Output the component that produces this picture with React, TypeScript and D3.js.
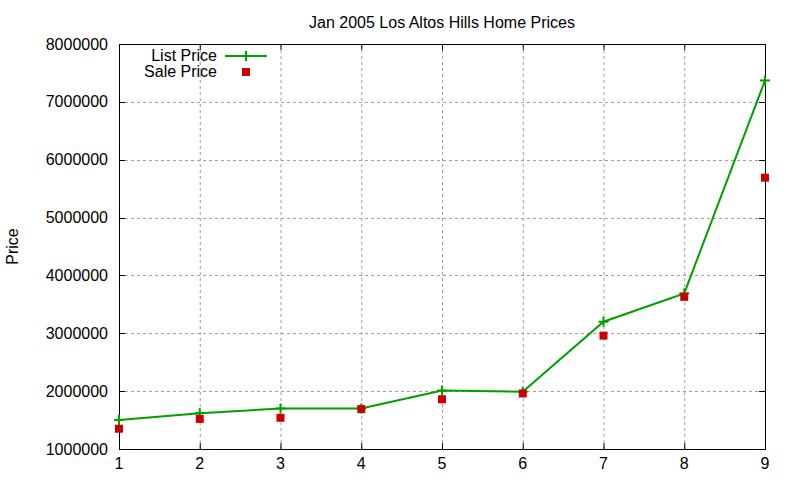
import React from "react";
import * as d3 from "d3";

const houses = [1, 2, 3, 4, 5, 6, 7, 8, 9];
const listPrice = [1500000, 1620000, 1700000, 1700000, 2010000, 1990000, 3200000, 3690000, 7370000];
const salePrice = [1350000, 1520000, 1540000, 1690000, 1860000, 1960000, 2960000, 3630000, 5690000];
const xTicks = [1, 2, 3, 4, 5, 6, 7, 8, 9];
const yTicks = [1000000, 2000000, 3000000, 4000000, 5000000, 6000000, 7000000, 8000000];

const W = 800;
const H = 480;
const L = 119;
const R = 765;
const T = 44;
const B = 449;
const FONT = "'Liberation Sans', Arial, sans-serif";
const GREEN = "#00a000";
const RED = "#cc0000";

export default function App() {
  const x = d3.scaleLinear().domain([1, 9]).range([L, R]);
  const y = d3.scaleLinear().domain([1000000, 8000000]).range([B, T]);
  const line = d3
    .line<number>()
    .x((_, i) => x(houses[i]))
    .y((d) => y(d));
  const tickLen = 6;
  return (
    <svg
      width={W}
      height={H}
      style={{ position: "absolute", left: 0, top: 0, background: "#fff" }}
      fontFamily={FONT}
    >
      <rect x={0} y={0} width={W} height={H} fill="#fff" />
      {/* grid */}
      <g stroke="#a0a0a0" strokeWidth={1} strokeDasharray="3,3">
        {xTicks.slice(1, -1).map((t) => (
          <line key={"gx" + t} x1={x(t) + 0.5} x2={x(t) + 0.5} y1={T} y2={B} />
        ))}
        {yTicks.slice(1, -1).map((t) => (
          <line key={"gy" + t} x1={L} x2={R} y1={Math.round(y(t)) + 0.5} y2={Math.round(y(t)) + 0.5} />
        ))}
      </g>
      {/* ticks */}
      <g stroke="#000" strokeWidth={1}>
        {xTicks.map((t) => (
          <g key={"tx" + t}>
            <line x1={x(t) + 0.5} x2={x(t) + 0.5} y1={B} y2={B - tickLen} />
            <line x1={x(t) + 0.5} x2={x(t) + 0.5} y1={T} y2={T + tickLen} />
          </g>
        ))}
        {yTicks.map((t) => (
          <g key={"ty" + t}>
            <line x1={L} x2={L + tickLen} y1={Math.round(y(t)) + 0.5} y2={Math.round(y(t)) + 0.5} />
            <line x1={R} x2={R - tickLen} y1={Math.round(y(t)) + 0.5} y2={Math.round(y(t)) + 0.5} />
          </g>
        ))}
      </g>
      {/* frame */}
      <rect x={L + 0.5} y={T + 0.5} width={R - L} height={B - T} fill="none" stroke="#000" strokeWidth={1} />
      {/* tick labels */}
      <g fontSize={16} fill="#000">
        {yTicks.map((t) => (
          <text key={"ly" + t} x={L - 11} y={y(t)} dy="0.35em" textAnchor="end">
            {t}
          </text>
        ))}
        {xTicks.map((t) => (
          <text key={"lx" + t} x={x(t)} y={B + 20} textAnchor="middle">
            {t}
          </text>
        ))}
      </g>
      {/* title */}
      <text x={(L + R) / 2} y={28} textAnchor="middle" fontSize={16} fill="#000">
        Jan 2005 Los Altos Hills Home Prices
      </text>
      {/* y label */}
      <text
        transform={`translate(18, ${(T + B) / 2}) rotate(-90)`}
        textAnchor="middle"
        fontSize={16}
        fill="#000"
      >
        Price
      </text>
      {/* list price line */}
      <path d={line(listPrice) || ""} fill="none" stroke={GREEN} strokeWidth={2} />
      {listPrice.map((v, i) => (
        <g key={"lp" + i} stroke={GREEN} strokeWidth={2}>
          <line x1={x(houses[i]) - 5} x2={x(houses[i]) + 5} y1={y(v)} y2={y(v)} />
          <line x1={x(houses[i])} x2={x(houses[i])} y1={y(v) - 5} y2={y(v) + 5} />
        </g>
      ))}
      {/* sale price squares */}
      {salePrice.map((v, i) => (
        <rect key={"sp" + i} x={x(houses[i]) - 4} y={y(v) - 4} width={8} height={8} fill={RED} />
      ))}
      {/* legend */}
      <g fontSize={16} fill="#000">
        <text x={217} y={61} textAnchor="end">
          List Price
        </text>
        <text x={217} y={77} textAnchor="end">
          Sale Price
        </text>
      </g>
      <line x1={225} x2={267} y1={56} y2={56} stroke={GREEN} strokeWidth={2} />
      <line x1={241} x2={251} y1={56} y2={56} stroke={GREEN} strokeWidth={2} />
      <line x1={246} x2={246} y1={51} y2={61} stroke={GREEN} strokeWidth={2} />
      <rect x={242} y={68} width={8} height={8} fill={RED} />
    </svg>
  );
}
